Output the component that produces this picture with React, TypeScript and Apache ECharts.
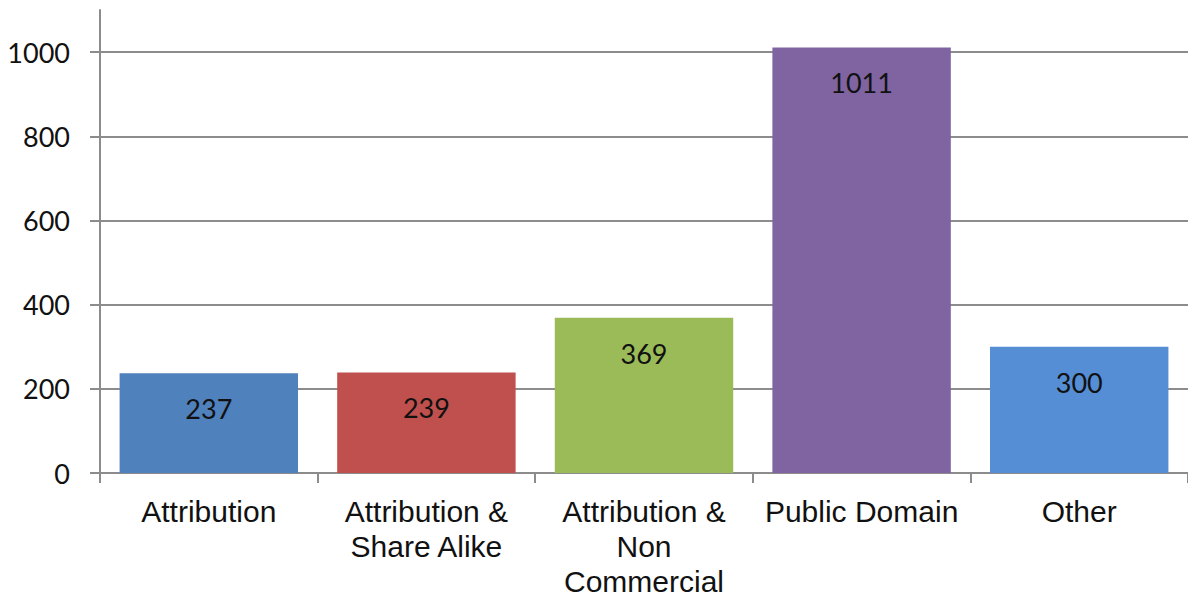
import React, { useEffect, useRef } from "react";
import * as echarts from "echarts";

const categories = [
  "Attribution",
  "Attribution &\nShare Alike",
  "Attribution &\nNon\nCommercial",
  "Public Domain",
  "Other",
];
const values = [237, 239, 369, 1011, 300];
const barColors = ["#4F81BD", "#C0504D", "#9BBB59", "#8064A2", "#558ED5"];
const yTicks = [0, 200, 400, 600, 800, 1000];

export default function App() {
  const ref = useRef<HTMLDivElement>(null);
  useEffect(() => {
    if (!ref.current) return;
    const chart = echarts.init(ref.current, null, { renderer: "svg" });
    chart.setOption({
      animation: false,
      backgroundColor: "#ffffff",
      grid: { left: 100, right: -2, top: 10, bottom: 123, containLabel: false },
      xAxis: {
        type: "category",
        data: categories,
        axisLine: { show: true, lineStyle: { color: "#8c8c8c", width: 2 } },
        axisTick: { show: true, length: 10, alignWithLabel: false, lineStyle: { color: "#8c8c8c", width: 2 } },
        axisLabel: {
          interval: 0,
          margin: 21,
          fontFamily: "Liberation Sans, Arial, sans-serif",
          fontSize: 30,
          lineHeight: 35,
          color: "#111",
          align: "center",
        },
      },
      yAxis: {
        type: "value",
        min: 0,
        max: 1100,
        interval: 100,
        axisLine: { show: true, lineStyle: { color: "#8c8c8c", width: 2 } },
        axisTick: { show: true, length: 10, customValues: yTicks, lineStyle: { color: "#8c8c8c", width: 2 } },
        axisLabel: {
          customValues: yTicks,
          margin: 30,
          formatter: (v: number) => String(v),
          fontFamily: "Lato, sans-serif",
          fontSize: 27,
          color: "#111",
        },
        splitLine: { show: true, lineStyle: { color: "#8c8c8c", width: 2 } },
      },
      series: [
        {
          type: "bar",
          barCategoryGap: "18%",
          data: values.map((v, i) => ({ value: v, itemStyle: { color: barColors[i] } })),
          label: {
            show: true,
            position: "insideTop",
            distance: 22,
            fontFamily: "Lato, sans-serif",
            fontSize: 27,
            color: "#111",
          },
        },
      ],
    });
    return () => chart.dispose();
  }, []);
  return (
    <div
      ref={ref}
      style={{ position: "fixed", left: 0, top: 0, width: 1188, height: 599 }}
    />
  );
}
